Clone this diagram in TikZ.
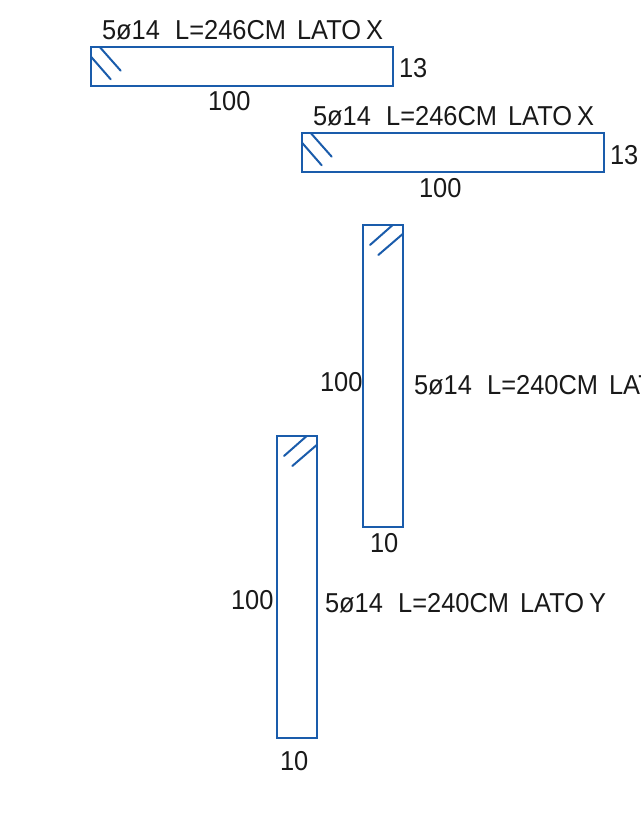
\documentclass[tikz,border=0pt]{standalone}
\usepackage{fontspec}
\newfontfamily\cadfont[FakeStretch=0.93]{Liberation Sans}
\definecolor{barblue}{HTML}{1A5CAB}
\tikzset{
  rebar/.style={draw=barblue,line width=1.5pt,line cap=round,line join=miter},
  barbox/.style={rebar,inner sep=0pt,outer sep=0pt,anchor=north west},
  dim/.style={inner sep=0pt,outer sep=0pt,anchor=base west,text=black!90,font=\cadfont\fontsize{20.5}{22}\selectfont},
}
\newcommand{\gapa}{\hspace{0.56em}}
\newcommand{\gapb}{\hspace{0.40em}}
\newcommand{\gapc}{\hspace{0.18em}}
\begin{document}
\begin{tikzpicture}[x=0.75pt,y=-0.75pt]
\useasboundingbox (0,0) rectangle (641,813);
\clip (0,0) rectangle (641,813);
% bars
\node[barbox,minimum width=226.5pt,minimum height=29.25pt] (b1) at (91,47) {};
\node[barbox,minimum width=226.5pt,minimum height=29.25pt] (b2) at (302,133) {};
\node[barbox,minimum width=30pt,minimum height=226.5pt] (b3) at (363,225) {};
\node[barbox,minimum width=30pt,minimum height=226.5pt] (b4) at (277,436) {};
% hatches
\draw[rebar] (100,47.3) -- (120.7,70.7) (91,56.7) -- (110.7,79.3);
\draw[rebar] (311,133.3) -- (331.7,156.7) (302,142.7) -- (321.7,165.3);
\draw[rebar] (392.7,225) -- (370,245) (402.7,234) -- (378.3,255);
\draw[rebar] (306.7,436) -- (284,456) (316.7,445) -- (292.3,466);
% labels
\node[dim] (t1) at (102,40) {5ø14\gapa L=246CM\gapb LATO\gapc X};
\node[dim] (n1a) at (399,78) {13};
\node[dim] (n1b) at (208,111) {100};
\node[dim] (t2) at (313,126) {5ø14\gapa L=246CM\gapb LATO\gapc X};
\node[dim] (n2a) at (610,165) {13};
\node[dim] (n2b) at (419,197) {100};
\node[dim] (n3a) at (320,391) {100};
\node[dim] (t3) at (414,394) {5ø14\gapa L=240CM\gapb LATO\gapc Y};
\node[dim] (n3b) at (370,552) {10};
\node[dim] (n4a) at (231,609) {100};
\node[dim] (t4) at (325,612) {5ø14\gapa L=240CM\gapb LATO\gapc Y};
\node[dim] (n4b) at (280,770) {10};
\end{tikzpicture}
\end{document}
